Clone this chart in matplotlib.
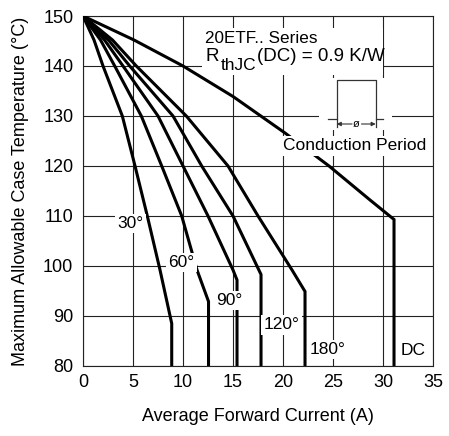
import matplotlib
matplotlib.use("Agg")
import matplotlib.pyplot as plt

plt.rcParams['font.family'] = ['Liberation Sans', 'DejaVu Sans']
plt.rcParams['mathtext.fontset'] = 'custom'
plt.rcParams['mathtext.rm'] = 'Liberation Sans'
plt.rcParams['mathtext.default'] = 'regular'

# ---- data ----
x_ticks = [0, 5, 10, 15, 20, 25, 30, 35]
y_ticks = [80, 90, 100, 110, 120, 130, 140, 150]

curve_names = ["30°", "60°", "90°", "120°", "180°", "DC"]

i_30 = [0, 1.1, 2.0, 3.93, 5.2, 6.43, 7.7, 8.87, 8.87]
t_30 = [150, 145.2, 140, 130, 120, 110, 99.2, 88.5, 80]

i_60 = [0, 1.75, 3.17, 5.83, 7.87, 9.87, 11.4, 12.55, 12.55]
t_60 = [150, 145.2, 140, 130, 120, 110, 99.2, 92.9, 80]

i_90 = [0, 2.15, 4.0, 7.5, 10.0, 12.5, 15.0, 15.4, 15.4]
t_90 = [150, 145.2, 140, 130, 120, 110, 99.2, 97.2, 80]

i_120 = [0, 2.55, 4.67, 9.0, 11.87, 15.0, 17.8, 17.8]
t_120 = [150, 145.2, 140, 130, 120, 110, 98.3, 80]

i_180 = [0, 2.95, 5.33, 10.33, 14.5, 17.5, 20.9, 22.2, 22.2]
t_180 = [150, 145.2, 140, 130, 120, 110, 99.2, 94.9, 80]

i_dc = [0, 5.1, 10.0, 15.0, 20.2, 24.6, 28.7, 31.1, 31.1]
t_dc = [150, 145.2, 140, 133.9, 126.6, 120, 113.2, 109.3, 80]

currents = [i_30, i_60, i_90, i_120, i_180, i_dc]
temps = [t_30, t_60, t_90, t_120, t_180, t_dc]
label_pos = [(4.75, 108.5), (9.85, 100.7), (14.67, 93.1),
             (19.85, 88.2), (24.45, 83.3), (33.05, 83.1)]

# ---- figure ----
fig = plt.figure(figsize=(4.49, 4.36), dpi=100)
ax = fig.add_axes([0.1849, 0.1606, 0.7795, 0.8027])

ax.set_xlim(0, 35)
ax.set_ylim(80, 150)
ax.set_xticks(x_ticks)
ax.set_yticks(y_ticks)
ax.tick_params(length=0, labelsize=13)
ax.tick_params(axis='y', pad=7)
ax.tick_params(axis='x', pad=6)
ax.grid(True, color='#222222', linewidth=0.8, zorder=1)
ax.set_axisbelow(True)
for s in ax.spines.values():
    s.set_linewidth(0.8)
    s.set_color('#222222')

for xs, ys in zip(currents, temps):
    ax.plot(xs, ys, color='black', linewidth=2.2, zorder=3,
            solid_joinstyle='miter', solid_capstyle='butt')

wbox = dict(boxstyle='square,pad=0.12', facecolor='white', edgecolor='none')
for name, (lx, ly) in zip(curve_names, label_pos):
    ax.text(lx, ly, name, fontsize=12.5, ha='center', va='center',
            bbox=wbox, zorder=5)

# title block (white background behind the two lines)
ax.add_patch(plt.Rectangle((11.9, 138.1), 18.05, 9.5, facecolor='white',
                           edgecolor='none', zorder=2.5))
ax.text(12.2, 144.5, "20ETF.. Series", fontsize=12.3, ha='left',
        va='baseline', zorder=4)
t_r = ax.text(12.2, 140.15, "R", fontsize=13.5, ha='left', va='bottom',
              zorder=4)
t_sub = ax.annotate("thJC", xy=(1, 0), xycoords=t_r, xytext=(1.8, -5.8),
                    textcoords='offset points', fontsize=12.5, ha='left',
                    va='bottom', zorder=4)
ax.annotate("(DC) = 0.9 K/W", xy=(1, 0), xycoords=t_sub, xytext=(0, 5.8),
            textcoords='offset points', fontsize=13.5, ha='left',
            va='bottom', zorder=4)

# conduction period inset
ax.add_patch(plt.Rectangle((23.6, 127.2), 7.3, 10.3, facecolor='white',
                           edgecolor='none', zorder=2.5))
pc = '#333333'
ax.plot([24.53, 25.37, 25.37, 29.27, 29.27, 30.03],
        [129.3, 129.3, 137.1, 137.1, 129.3, 129.3], color=pc, lw=0.9, zorder=4)
ax.plot([25.37, 25.37], [129.3, 127.7], color=pc, lw=0.9, zorder=4)
ax.plot([29.27, 29.27], [129.3, 127.7], color=pc, lw=0.9, zorder=4)
ax.annotate("", xy=(25.37, 128.4), xytext=(26.9, 128.4),
            arrowprops=dict(arrowstyle='-|>', color=pc, lw=0.8,
                            mutation_scale=6, shrinkA=0, shrinkB=0), zorder=4)
ax.annotate("", xy=(29.27, 128.4), xytext=(27.85, 128.4),
            arrowprops=dict(arrowstyle='-|>', color=pc, lw=0.8,
                            mutation_scale=6, shrinkA=0, shrinkB=0), zorder=4)
ax.text(27.35, 128.4, "ø", fontsize=8, ha='center', va='center', zorder=4)
ax.text(27.2, 124.0, "Conduction Period", fontsize=12.5, ha='center',
        va='center', bbox=wbox, zorder=5)

ax.set_xlabel("Average Forward Current (A)", fontsize=13, labelpad=12)
ax.set_ylabel("Maximum Allowable Case Temperature (°C)", fontsize=13,
              labelpad=10)

fig.savefig("out.png", dpi=100)
